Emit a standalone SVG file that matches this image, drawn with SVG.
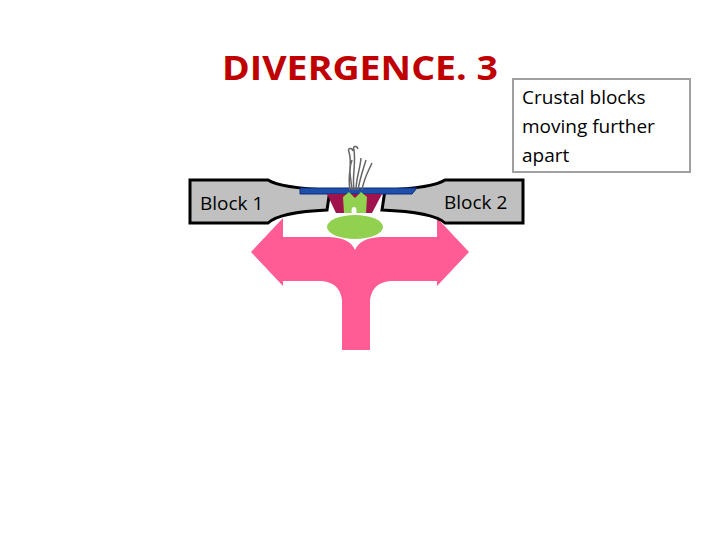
<svg xmlns="http://www.w3.org/2000/svg" width="720" height="540" viewBox="0 0 720 540">
<style>
text{font-family:"Open Sans","Liberation Sans",sans-serif}
.blk{fill:#c0c0c0;stroke:#000;stroke-width:3}
.lbl{font-size:19px;fill:#000}
.smoke{fill:none;stroke:#666;stroke-width:1.5}
</style>
<rect width="720" height="540" fill="#fff"/>
<text x="360" y="80" text-anchor="middle" font-size="34" font-weight="bold" fill="#c00000" textLength="276" lengthAdjust="spacingAndGlyphs">DIVERGENCE. 3</text>
<g id="note">
<rect x="513" y="79" width="177" height="93" fill="#fff" stroke="#a0a0a0" stroke-width="2"/>
<text x="522" y="104" font-size="19">Crustal blocks</text>
<text x="522" y="133" font-size="19">moving further</text>
<text x="522" y="162" font-size="19">apart</text>
</g>
<g id="arrow">
<path d="M251,252 L283,218 L283,237 L330,237 Q350,238 355,250 Q360,238 380,237 L437,237 L437,218 L469,252 L437,286 L437,281 L390,281 Q372,283 370,300 L370,350 L342,350 L342,300 Q340,283 322,281 L283,281 L283,286 Z" fill="#ff5c96"/>
</g>
<g id="block1">
<path class="blk" d="M190,180 L268,180 Q280,188 330,190 L327,210 Q280,212 268,223 L190,223 Z"/>
<text class="lbl" x="200" y="210">Block 1</text>
</g>
<g id="block2">
<path class="blk" d="M523,180 L445,180 Q433,188 385,190 L382,210 Q433,212 445,223 L523,223 Z"/>
<text class="lbl" x="444" y="209">Block 2</text>
</g>
<g id="rift">
<path d="M300,188 L417,188 L412,194 L300,194 Z" fill="#1f4fa8" stroke="#0a2a80" stroke-width="1"/>
<path d="M327,194 L382,194 L372,213 L336,213 Z" fill="#a0134c"/>
<path d="M343,197 L349,192 L355,198 L361,192 L367,197 L366,213 L344,213 Z" fill="#92d050"/>
<ellipse cx="355" cy="227" rx="28" ry="12" fill="#92d050"/>
<ellipse cx="354" cy="211" rx="2.5" ry="4" fill="#fff"/>
<path class="smoke" d="M350,190 C347,175 353,165 349,152 C347,148 352,147 353,151 M354,190 C352,175 356,165 354,150 C352,146 357,145 358,149 M358,190 C360,178 363,170 366,160 M362,190 C364,178 368,172 372,163 M352,190 C351,178 348,170 352,160 M356,190 C356,178 360,170 361,158"/>
</g>
</svg>
